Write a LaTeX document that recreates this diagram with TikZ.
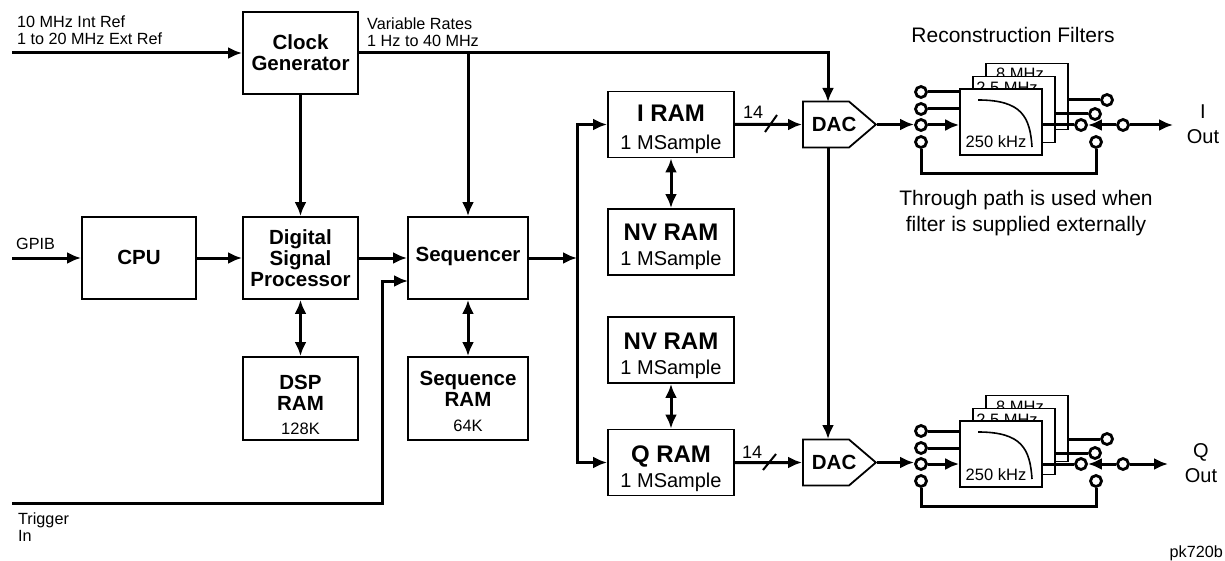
\documentclass[tikz,border=0pt]{standalone}
\usepackage{fontspec}
\setmainfont{Liberation Sans}
\usetikzlibrary{arrows.meta,shapes.symbols}
\tikzset{
  >={Latex[length=14pt,width=12pt]},
  flow/.style={line width=3pt},
  blockbox/.style={draw,line width=1.8pt,minimum width=#1,align=center,inner sep=0pt,
    font=\fontsize{20.5}{21}\selectfont\bfseries},
  ramtext/.style={font=\fontsize{24}{25}\selectfont\bfseries},
  dacbox/.style={draw,line width=1.8pt,signal,signal to=east,signal pointer angle=81,
    minimum width=73pt,minimum height=46pt,inner sep=0pt,anchor=west,
    font=\fontsize{20.5}{21}\selectfont\bfseries},
  filterbox/.style={draw,fill=white,line width=1.6pt,minimum width=82pt,minimum height=66pt,
    inner sep=0pt,font=\fontsize{16.5}{17}\selectfont},
  switchdot/.style={draw,fill=white,circle,line width=2.8pt,minimum size=11pt,inner sep=0pt},
  sigtext/.style={anchor=west,align=left,inner sep=0pt,font=\fontsize{16.2}{17}\selectfont},
  notetext/.style={align=center,inner sep=0pt,font=\fontsize{21}{26}\selectfont}
}
\newcommand{\subline}{\fontsize{20}{25}\selectfont\mdseries}
\newcommand{\sizeline}{\fontsize{16.5}{19}\selectfont\mdseries}
\begin{document}
\begin{tikzpicture}[x=1pt,y=-1pt]
    \useasboundingbox (0,0) rectangle (1225,561);
    % left half
    \node[blockbox=115pt,minimum height=82pt] (clock) at (300.5,53) {Clock\\Generator};
    \node[blockbox=114pt,minimum height=82pt] (cpu) at (139,258) {\raisebox{2pt}{CPU}};
    \node[blockbox=115pt,minimum height=82pt] (dsp) at (300.5,258) {Digital\\Signal\\Processor};
    \node[blockbox=120pt,minimum height=82pt] (seq) at (468,258) {\raisebox{7pt}{Sequencer}};
    \node[blockbox=115pt,minimum height=83pt] (dspram) at (300.5,398.5) {\rule{0pt}{28pt}DSP\\RAM\\[3pt]{\sizeline 128K}};
    \node[blockbox=120pt,minimum height=83pt] (seqram) at (468,398.5) {\rule{0pt}{20pt}Sequence\\RAM\\[4pt]{\sizeline 64K}};
    % memories
    \node[blockbox=126pt,ramtext,minimum height=66pt] (iram) at (671,124.5) {\rule{0pt}{26pt}I RAM\\[3pt]{\subline 1 MSample}};
    \node[blockbox=126pt,ramtext,minimum height=66pt] (invram) at (671,242) {\rule{0pt}{27pt}NV RAM\\{\subline 1 MSample}};
    \node[blockbox=126pt,ramtext,minimum height=66pt] (qnvram) at (671,350) {\rule{0pt}{28pt}NV RAM\\{\subline 1 MSample}};
    \node[blockbox=126pt,ramtext,minimum height=66pt] (qram) at (671,462.5) {\rule{0pt}{29pt}Q RAM\\{\subline 1 MSample}};
    \node[dacbox] (idac) at (802,124.5) {\makebox[44pt][l]{\hspace*{8pt}DAC}};
    \node[dacbox] (qdac) at (802,462.5) {\makebox[44pt][l]{\hspace*{8pt}DAC}};
    % free ends
    \coordinate (refin) at (12,53);
    \coordinate (gpibin) at (12,258);
    \coordinate (trigin) at (12,503);
    \coordinate (trigturn) at (382,503);
    \coordinate (trigseq) at (408,281);
    \coordinate (busmid) at (577,258);
    \coordinate (idactop) at (828,102);
    \coordinate (idacbot) at (828,148);
    \coordinate (qdactop) at (828,439);
    % connectors
    \draw[flow,->] (refin) -- (clock);
    \draw[flow,->] (clock.east) -| (idactop);
    \draw[flow,->] (clock.east -| seq.north) -- (seq.north);
    \draw[flow,->] (clock) -- (dsp);
    \draw[flow,->] (gpibin) -- (cpu);
    \draw[flow,->] (cpu) -- (dsp);
    \draw[flow,->] (dsp) -- (seq);
    \draw[flow,->] (trigin) -- (trigturn) |- (trigseq);
    \draw[flow,<->] (dsp) -- (dspram);
    \draw[flow,<->] (seq) -- (seqram);
    \draw[flow,->] (seq) -- (busmid);
    \draw[flow,->] (busmid) |- (iram.west);
    \draw[flow,->] (busmid) |- (qram.west);
    \draw[flow,<->] (iram) -- (invram);
    \draw[flow,<->] (qnvram) -- (qram);
    \draw[flow,->] (iram) -- (idac);
    \draw[flow,->] (qram) -- (qdac);
    \draw[flow,->] (idacbot) -- (qdactop);
    \draw[line width=2pt] (765,132) -- (777,115);
    \draw[line width=2pt] (763,470) -- (776,454);
    % filter banks
    \foreach \n/\yb/\yc/\yl/\xe/\xl/\lab in {i/122/125/174/1173/1203/I, q/454/464/506/1168/1201/Q}{
      \node[filterbox] (\n back) at (1027,\yb-25.5) {\raisebox{16.5pt}[0pt][0pt]{\hspace*{-14pt}8 MHz}};
      \node[filterbox] (\n mid) at (1014,\yb-12.5) {\raisebox{16pt}[0pt][0pt]{\hspace*{-14pt}2.5 MHz}};
      \node[filterbox] (\n front) at (1001,\yb) {\raisebox{-26pt}[0pt][0pt]{\hspace*{-10pt}250 kHz}};
      \draw[line width=1.6pt] (978,\yb-22) .. controls (1022,\yb-22) and (1030,\yb-5) .. (1032,\yb+25);
      \node[switchdot] (\n l1) at (921,\yc-33) {};
      \node[switchdot] (\n l2) at (921,\yc-16) {};
      \node[switchdot] (\n l3) at (921,\yc) {};
      \node[switchdot] (\n l4) at (921,\yc+17) {};
      \node[switchdot] (\n r1) at (1107,\yc-25) {};
      \node[switchdot] (\n r2) at (1095,\yc-11) {};
      \node[switchdot] (\n r3) at (1081,\yc) {};
      \node[switchdot] (\n r4) at (1096,\yc+17) {};
      \node[switchdot] (\n out) at (1123,\yc) {};
      \coordinate (\n end) at (\xe,\yc);
      \draw[flow,->] (\n dac.east) -- (\n dac.east -| \n l3.west);
      \draw[flow] (\n l1) -- (\n l1 -| \n front.west);
      \draw[flow] (\n l2) -- (\n l2 -| \n front.west);
      \draw[flow,->] (\n l3) -- (\n l3 -| \n front.west);
      \draw[flow] (\n r1 -| \n back.east) -- (\n r1);
      \draw[flow] (\n r2 -| \n mid.east) -- (\n r2);
      \draw[flow] (\n r3 -| \n front.east) -- (\n r3);
      \draw[flow,->] (\n out) -- (\n r3);
      \draw[flow,->] (\n out) -- (\n end);
      \draw[flow] (\n l4) |- (1000,\yl) -| (\n r4);
      \node[notetext,font=\fontsize{20}{25}\selectfont] (\n label) at (\xl,\yc-1) {\lab\\Out};
    }
    % labels
    \node[sigtext] (reftext) at (17,30.5) {10 MHz Int Ref\\1 to 20 MHz Ext Ref};
    \node[sigtext] (ratetext) at (367,32.5) {Variable Rates\\1 Hz to 40 MHz};
    \node[sigtext] (gpibtext) at (16,244) {GPIB};
    \node[sigtext] (trigtext) at (18,527) {Trigger\\In};
    \node[sigtext,anchor=east] (figtag) at (1223,553) {pk720b};
    \node[notetext] (filtertext) at (1013,35) {Reconstruction Filters};
    \node[notetext] (thrutext) at (1026,213) {Through path is used when\\filter is supplied externally};
    \node[sigtext,font=\fontsize{18}{18}\selectfont] (iwidth) at (743,112) {14};
    \node[sigtext,font=\fontsize{18}{18}\selectfont] (qwidth) at (742,452) {14};
  \end{tikzpicture}
\end{document}
